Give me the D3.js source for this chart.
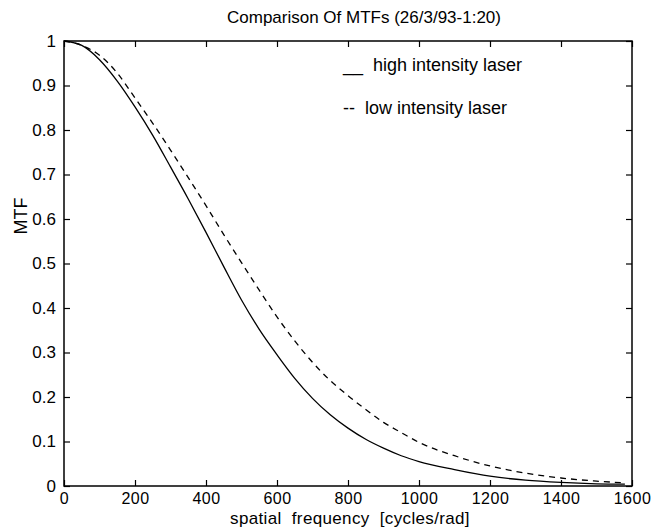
<!DOCTYPE html>
<html>
<head>
<meta charset="utf-8">
<script src="https://cdn.jsdelivr.net/npm/d3@7"></script>
<style>
  body { margin: 0; background: #fff; }
  text { font-family: "Liberation Sans", Arial, Helvetica, sans-serif; fill: #000; }
</style>
</head>
<body>
<script>
    // spatial frequency samples (cycles/rad)
    const freq = [0, 50, 100, 150, 200, 250, 300, 350, 400, 450, 500, 550, 600, 650, 700, 750,
                  800, 850, 900, 950, 1000, 1100, 1200, 1300, 1400, 1500, 1580];
    // high intensity laser (solid)
    const mtfHigh = [1.000, 0.990, 0.958, 0.910, 0.852, 0.788, 0.717, 0.645, 0.570, 0.493, 0.418,
                     0.352, 0.295, 0.242, 0.197, 0.160, 0.130, 0.105, 0.085, 0.068, 0.055, 0.037,
                     0.022, 0.013, 0.008, 0.005, 0.004];
    // low intensity laser (dashed)
    const mtfLow = [1.000, 0.990, 0.968, 0.928, 0.872, 0.815, 0.755, 0.693, 0.630, 0.565, 0.502,
                    0.440, 0.380, 0.326, 0.278, 0.237, 0.203, 0.172, 0.143, 0.120, 0.098, 0.068,
                    0.045, 0.029, 0.018, 0.011, 0.007];
    const xTicks = [0, 200, 400, 600, 800, 1000, 1200, 1400, 1600];
    const yTicks = [0, 0.1, 0.2, 0.3, 0.4, 0.5, 0.6, 0.7, 0.8, 0.9, 1];
    const legendLabels = ["__  high intensity laser", "--  low intensity laser"];

    let width = 661,
        height = 528;
    let pLeft = 64, pRight = 632, pTop = 41, pBottom = 486;

    let svg = d3.select("body")
        .append("svg")
        .attr("width", width)
        .attr("height", height);

    let x = d3.scaleLinear().domain([0, 1600]).range([pLeft, pRight]);
    let y = d3.scaleLinear().domain([0, 1]).range([pBottom, pTop]);

    // tick label formats
    let fmtY = d => d === 0 ? "0" : d === 1 ? "1" : d3.format(".1f")(d);

    // bottom axis with inward ticks
    let gx = svg.append("g")
        .attr("transform", `translate(0,${pBottom})`)
        .call(d3.axisBottom(x).tickValues(xTicks).tickSizeInner(-6).tickSizeOuter(0).tickPadding(7).tickFormat(d3.format("d")));
    gx.selectAll("text").attr("font-size", 16).attr("dy", "0.71em").attr("letter-spacing", 0.5);

    // left axis
    let gy = svg.append("g")
        .attr("transform", `translate(${pLeft},0)`)
        .call(d3.axisLeft(y).tickValues(yTicks).tickSizeInner(-6).tickSizeOuter(0).tickPadding(8).tickFormat(fmtY));
    gy.selectAll("text").attr("font-size", 17);

    // top and right ticks, no labels
    svg.append("g")
        .attr("transform", `translate(0,${pTop})`)
        .call(d3.axisTop(x).tickValues(xTicks).tickSizeInner(-6).tickSizeOuter(0).tickFormat(""));
    svg.append("g")
        .attr("transform", `translate(${pRight},0)`)
        .call(d3.axisRight(y).tickValues(yTicks).tickSizeInner(-6).tickSizeOuter(0).tickFormat(""));

    svg.selectAll(".domain").remove();
    svg.selectAll(".tick line").attr("stroke", "#000").attr("stroke-width", 1.2);

    // box
    svg.append("rect")
        .attr("x", pLeft).attr("y", pTop)
        .attr("width", pRight - pLeft).attr("height", pBottom - pTop)
        .attr("fill", "none").attr("stroke", "#000").attr("stroke-width", 1.5);

    let line = d3.line().x((d, i) => x(freq[i])).y(d => y(d)).curve(d3.curveMonotoneX);

    svg.append("path")
        .attr("d", line(mtfHigh))
        .attr("fill", "none").attr("stroke", "#000").attr("stroke-width", 1.3);
    svg.append("path")
        .attr("d", line(mtfLow))
        .attr("fill", "none").attr("stroke", "#000").attr("stroke-width", 1.3)
        .attr("stroke-dasharray", "6,5");

    // legend (text only, like the original)
    svg.selectAll(".legend")
        .data(legendLabels)
        .enter().append("text")
        .attr("class", "legend")
        .attr("x", 343)
        .attr("y", (d, i) => 71 + i * 43)
        .attr("font-size", 18)
        .style("white-space", "pre")
        .text(d => d);

    // title
    svg.append("text")
        .attr("x", 364).attr("y", 23)
        .attr("text-anchor", "middle")
        .attr("font-size", 17)
        .text("Comparison Of MTFs (26/3/93-1:20)");

    // x label
    svg.append("text")
        .attr("x", 350).attr("y", 524)
        .attr("text-anchor", "middle")
        .attr("font-size", 17)
        .attr("letter-spacing", 0.35)
        .style("white-space", "pre")
        .text("spatial  frequency  [cycles/rad]");

    // y label
    svg.append("text")
        .attr("transform", `translate(27,216) rotate(-90)`)
        .attr("text-anchor", "middle")
        .attr("font-size", 18)
        .text("MTF");
</script>
</body>
</html>
